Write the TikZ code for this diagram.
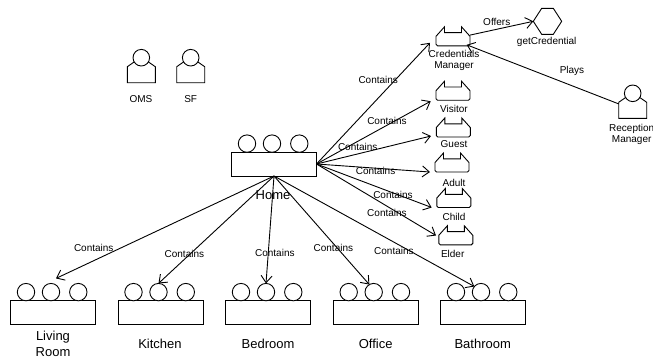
\documentclass[tikz,border=0pt]{standalone}
\usepackage{fontspec}
\setmainfont{Liberation Sans}
\usetikzlibrary{arrows.meta}

\tikzset{
  ghost/.style={inner sep=0pt,outer sep=0pt,minimum width=34pt,minimum height=19pt},
  agentbody/.style={inner sep=0pt,outer sep=0pt,minimum width=28pt,minimum height=16pt},
  capbox/.style={inner sep=0pt,outer sep=0pt,minimum width=28.4pt,minimum height=26pt},
  groupbox/.style={draw,inner sep=0pt,outer sep=0pt,minimum width=85pt,minimum height=24pt},
  head/.style={circle,draw,fill=white,inner sep=0pt,outer sep=0pt,minimum size=17.4pt},
  small/.style={font=\fontsize{10}{11.3}\selectfont,align=center},
  big/.style={font=\fontsize{13}{15.7}\selectfont,align=center},
  link/.style={draw,-{Straight Barb[length=7pt,width=11pt]}},
}

\begin{document}
\begin{tikzpicture}[x=1pt,y=-1pt,line width=.9pt]

        \useasboundingbox (0,0) rectangle (653,360);

        % groups
        \foreach \name/\x/\y in {home/274/164,living/53/312.5,kitchen/160.5/312.5,bedroom/268/312.5,office/375.7/312.5,bathroom/483/312.5} {
          \node[groupbox] (\name) at (\x,\y) {};
          \node[head] (\name a) at (\x-27,\y-20.4) {};
          \node[head] (\name b) at (\x-2,\y-20.4) {};
          \node[head] (\name c) at (\x+25.3,\y-20.4) {};
        }

        % roles
        \foreach \name/\x/\y in {credmgr/453/36.3,visitor/453/90.7,guest/453.3/127.5,adult/452/162.5,child/453.8/198,elder/455.8/235.3} {
          \node[ghost] (\name) at (\x,\y) {};
          \draw[shift={(\x,\y)}] (-17,0) -- (-8.5,-9.5) -- (-8.5,-3.7) -- (8.5,-3.7) -- (8.5,-9.5) -- (17,0)
            [rounded corners=1.5pt] -- (17,9.5) -- (-17,9.5) [sharp corners] -- cycle;
        }

        % agents
        \foreach \name/\x/\y in {oms/141.3/74.7,sf/190.7/74.7,recmgr/632.7/110.3} {
          \node[agentbody] (\name) at (\x,\y) {};
          \draw (\name.north west) -- ++(6.5,-4.5) -- ++(15,0) -- (\name.north east)
            -- (\name.south east) -- (\name.south west) -- cycle;
          \node[head,minimum size=16.6pt] (\name h) at (\x,\y-17) {};
        }

        % capability
        \node[capbox] (getcred) at (547.5,21.3) {};
        \draw[shift={(547.5,21.3)}] (-14.2,0) -- (-5.8,-13) -- (5.8,-13) -- (14.2,0) -- (5.8,13) -- (-5.8,13) -- cycle;

        % labels
        \begin{scope}[every node/.style={small}]
          \node (credmgrtxt) at (454,60.5) {Credentials\\Manager};
          \node (visitortxt) at (454,108.7) {Visitor};
          \node (guesttxt)   at (454,143.7) {Guest};
          \node (adulttxt)   at (454,182.7) {Adult};
          \node (childtxt)   at (454,216.7) {Child};
          \node (eldertxt)   at (452.7,253.7) {Elder};
          \node (getcredtxt) at (546.7,41.7) {getCredential};
          \node (recmgrtxt)  at (631.7,134.3) {Reception\\Manager};
          \node (omstxt)     at (141,98.7) {OMS};
          \node (sftxt)      at (190.7,98.7) {SF};
        \end{scope}
        \begin{scope}[every node/.style={big}]
          \node (hometxt)     at (273,195) {Home};
          \node (livingtxt)   at (53,343.8) {Living\\Room};
          \node (kitchentxt)  at (160,343.7) {Kitchen};
          \node (bedroomtxt)  at (268,343.7) {Bedroom};
          \node (officetxt)   at (375.7,343.7) {Office};
          \node (bathroomtxt) at (482.7,343.7) {Bathroom};
        \end{scope}

        % connectors
        \begin{scope}[every edge/.style={link},every node/.style={small}]
          \path (home.east)  edge node[xshift=5pt,yshift=23.5pt] {Contains} ([xshift=-6pt,yshift=3pt]credmgr.south west);
          \path (home.east)  edge node[xshift=13.4pt,yshift=11.2pt] {Contains} ([xshift=-5.3pt,yshift=-1pt]visitor.south west);
          \path (home.east)  edge node[xshift=-16pt,yshift=3.3pt] {Contains} ([xshift=-5.3pt,yshift=1pt]guest.south west);
          \path (home.east)  edge node[xshift=2.3pt,yshift=-2.7pt] {Contains} ([xshift=-5pt]adult.south west);
          \path (home.east)  edge node[xshift=18.9pt,yshift=-8.9pt] {Contains} ([xshift=-5.1pt]child.south west);
          \path (home.east)  edge node[xshift=10.7pt,yshift=-12.9pt] {Contains} ([xshift=-2.8pt,yshift=9.3pt]elder.south west);
          \path (home.south) edge node[pos=.82,xshift=-1.5pt,yshift=12.3pt] {Contains} ([xshift=5pt,yshift=5pt]livingb.north);
          \path (home.south) edge node[pos=.75,xshift=-3pt,yshift=2.8pt] {Contains} (kitchenb.north);
          \path (home.south) edge node[pos=.72,xshift=6.6pt] {Contains} (bedroomb.north);
          \path (home.south) edge node[pos=.65,xshift=-2.6pt,yshift=-1.8pt] {Contains} (officeb.120);
          \path (home.south) edge node[pos=.6,xshift=-.3pt,yshift=-8.3pt] {Contains} (bathroomb.140);
          \path ([yshift=-8.3pt]credmgr.north east) edge node[xshift=-4.9pt,yshift=6.4pt] {Offers} (getcred.west);
          \path ([yshift=-1.6pt]recmgr.north west) edge node[xshift=29.3pt,yshift=3.7pt] {Plays} ([xshift=-3.3pt,yshift=1pt]credmgr.south east);
        \end{scope}

      \end{tikzpicture}
\end{document}
